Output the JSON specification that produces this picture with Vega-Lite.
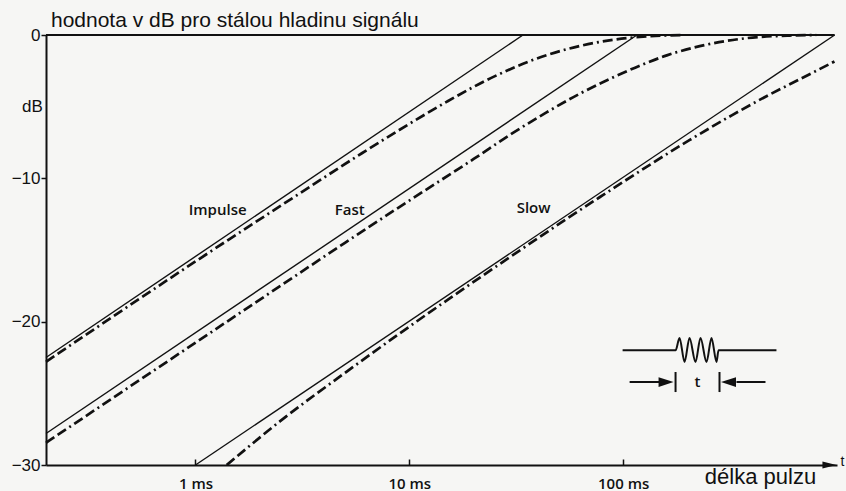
{
  "$schema": "https://vega.github.io/schema/vega-lite/v6.json",
  "width": 791,
  "height": 430,
  "autosize": {"type": "none"},
  "padding": {"left": 46, "top": 35, "right": 9, "bottom": 26},
  "background": "#f6f6f4",
  "config": {"view": {"stroke": null}},
  "datasets": {
    "title": [{"label": "hodnota v dB pro stálou hladinu signálu", "t": 0.211, "db": 0.56}],
    "zero": [{"t": 0.2, "t2": 975, "db": 0}],
    "solid": [
      {"series": "Impulse", "t": 0.2, "db": -22.5},
      {"series": "Impulse", "t": 34, "db": 0},
      {"series": "Fast", "t": 0.2, "db": -27.8},
      {"series": "Fast", "t": 116, "db": 0},
      {"series": "Slow", "t": 1.0, "db": -30},
      {"series": "Slow", "t": 975, "db": 0}
    ],
    "dashed": [
      {"series": "Impulse", "t": 0.2, "db": -22.8},
      {"series": "Impulse", "t": 1, "db": -15.8},
      {"series": "Impulse", "t": 3, "db": -11.15},
      {"series": "Impulse", "t": 6, "db": -8.25},
      {"series": "Impulse", "t": 10, "db": -6.2},
      {"series": "Impulse", "t": 15, "db": -4.65},
      {"series": "Impulse", "t": 21, "db": -3.45},
      {"series": "Impulse", "t": 30, "db": -2.35},
      {"series": "Impulse", "t": 44, "db": -1.4},
      {"series": "Impulse", "t": 63, "db": -0.76},
      {"series": "Impulse", "t": 90, "db": -0.33},
      {"series": "Impulse", "t": 130, "db": -0.1},
      {"series": "Impulse", "t": 190, "db": 0},
      {"series": "Fast", "t": 0.2, "db": -28.45},
      {"series": "Fast", "t": 0.5, "db": -24.47},
      {"series": "Fast", "t": 1.86, "db": -18.78},
      {"series": "Fast", "t": 5, "db": -14.5},
      {"series": "Fast", "t": 10, "db": -11.55},
      {"series": "Fast", "t": 20, "db": -8.65},
      {"series": "Fast", "t": 30.4, "db": -6.85},
      {"series": "Fast", "t": 43.8, "db": -5.4},
      {"series": "Fast", "t": 62.6, "db": -4.1},
      {"series": "Fast", "t": 89, "db": -2.98},
      {"series": "Fast", "t": 125, "db": -2.02},
      {"series": "Fast", "t": 160, "db": -1.42},
      {"series": "Fast", "t": 228, "db": -0.78},
      {"series": "Fast", "t": 378, "db": -0.22},
      {"series": "Fast", "t": 600, "db": -0.04},
      {"series": "Fast", "t": 800, "db": 0},
      {"series": "Slow", "t": 1.4, "db": -30},
      {"series": "Slow", "t": 2.48, "db": -26.96},
      {"series": "Slow", "t": 5.1, "db": -23.48},
      {"series": "Slow", "t": 9, "db": -20.83},
      {"series": "Slow", "t": 26.4, "db": -15.99},
      {"series": "Slow", "t": 77.6, "db": -11.32},
      {"series": "Slow", "t": 204, "db": -7.34},
      {"series": "Slow", "t": 325, "db": -5.57},
      {"series": "Slow", "t": 468, "db": -4.27},
      {"series": "Slow", "t": 667, "db": -3.1},
      {"series": "Slow", "t": 973, "db": -1.85}
    ],
    "labels": [
      {"label": "Impulse", "t": 1.27, "db": -12.2},
      {"label": "Fast", "t": 5.27, "db": -12.2},
      {"label": "Slow", "t": 38.1, "db": -12.1},
      {"label": "t", "t": 222.6, "db": -24.21}
    ],
    "axislabel": [{"label": "t", "t": 1060, "db": -29.8}],
    "icon": [
      {"part": "wave", "t": 99.4, "db": -22.0},
      {"part": "wave", "t": 175.8, "db": -22.0},
      {"part": "wave", "t": 183.5, "db": -21.14},
      {"part": "wave", "t": 193.7, "db": -22.81},
      {"part": "wave", "t": 204.3, "db": -21.14},
      {"part": "wave", "t": 218.0, "db": -22.81},
      {"part": "wave", "t": 230.0, "db": -21.14},
      {"part": "wave", "t": 245.4, "db": -22.81},
      {"part": "wave", "t": 258.9, "db": -21.14},
      {"part": "wave", "t": 273.3, "db": -22.81},
      {"part": "wave", "t": 279.2, "db": -22.0},
      {"part": "wave", "t": 521, "db": -22.0},
      {"part": "left", "t": 107.2, "db": -24.21},
      {"part": "left", "t": 147.9, "db": -24.21},
      {"part": "right", "t": 338.8, "db": -24.21},
      {"part": "right", "t": 463, "db": -24.21}
    ],
    "bars": [
      {"t": 175.8, "db": -23.51, "db2": -24.91},
      {"t": 282.2, "db": -23.51, "db2": -24.91}
    ],
    "heads": [
      {"t": 158.7, "db": -24.21, "shape": "M-1,-0.65L1,0L-1,0.65Z", "sz": 225},
      {"t": 310.9, "db": -24.21, "shape": "M1,-0.65L-1,0L1,0.65Z", "sz": 225},
      {"t": 922, "db": -30, "shape": "M-1,-0.5L1,0L-1,0.5Z", "sz": 196}
    ]
  },
  "encoding": {
    "x": {
      "field": "t",
      "type": "quantitative",
      "scale": {"type": "log", "domain": [0.2, 1000]},
      "axis": {
        "values": [1, 10, 100],
        "labelExpr": "datum.value + ' ms'",
        "grid": false,
        "tickSize": -6,
        "tickColor": "#111",
        "tickWidth": 1.5,
        "domainColor": "#111",
        "domainWidth": 2,
        "labelFont": "Open Sans",
        "labelFontSize": 15,
        "labelFontWeight": 600,
        "labelColor": "#111",
        "labelPadding": 17,
        "labelFlush": false,
        "title": "délka pulzu",
        "titleFont": "Liberation Sans",
        "titleFontSize": 22,
        "titleFontWeight": "normal",
        "titleColor": "#111",
        "titleX": 714,
        "titleY": 18,
        "titleAlign": "center",
        "titleBaseline": "alphabetic"
      }
    },
    "y": {
      "field": "db",
      "type": "quantitative",
      "scale": {"domain": [-30, 0], "nice": false, "zero": false},
      "axis": {
        "values": [0, -10, -20, -30],
        "grid": false,
        "tickSize": 5,
        "tickColor": "#111",
        "tickWidth": 1.5,
        "domainColor": "#111",
        "domainWidth": 2,
        "labelFont": "Liberation Sans",
        "labelFontSize": 17,
        "labelColor": "#111",
        "labelPadding": 1,
        "title": "dB",
        "titleAngle": 0,
        "titleX": -14,
        "titleY": 71,
        "titleAlign": "center",
        "titleBaseline": "middle",
        "titleFont": "Liberation Sans",
        "titleFontSize": 17,
        "titleFontWeight": "normal",
        "titleColor": "#111"
      }
    }
  },
  "layer": [
    {
      "data": {"name": "zero"},
      "mark": {"type": "rule", "color": "#111", "strokeWidth": 2},
      "encoding": {"x2": {"field": "t2"}}
    },
    {
      "data": {"name": "solid"},
      "mark": {"type": "line", "color": "#111", "strokeWidth": 1.4},
      "encoding": {"detail": {"field": "series"}}
    },
    {
      "data": {"name": "dashed"},
      "mark": {"type": "line", "color": "#111", "strokeWidth": 2.7, "strokeDash": [10, 4, 10, 4, 2, 4], "interpolate": "monotone"},
      "encoding": {"detail": {"field": "series"}}
    },
    {
      "data": {"name": "labels"},
      "mark": {"type": "text", "font": "Open Sans", "fontSize": 15, "fontWeight": 600, "color": "#111", "baseline": "middle", "align": "center"},
      "encoding": {"text": {"field": "label"}}
    },
    {
      "data": {"name": "axislabel"},
      "mark": {"type": "text", "font": "Liberation Sans", "fontSize": 14, "color": "#111", "baseline": "middle", "align": "center"},
      "encoding": {"text": {"field": "label"}}
    },
    {
      "data": {"name": "title"},
      "mark": {"type": "text", "font": "Liberation Sans", "fontSize": 21, "color": "#111", "baseline": "alphabetic", "align": "left"},
      "encoding": {"text": {"field": "label"}}
    },
    {
      "data": {"name": "icon"},
      "mark": {"type": "line", "color": "#111", "strokeWidth": 2, "interpolate": "monotone"},
      "encoding": {"detail": {"field": "part"}}
    },
    {
      "data": {"name": "bars"},
      "mark": {"type": "rule", "color": "#111", "strokeWidth": 2},
      "encoding": {"y2": {"field": "db2"}}
    },
    {
      "data": {"name": "heads"},
      "mark": {"type": "point", "filled": true, "color": "#111", "opacity": 1},
      "encoding": {
        "shape": {"field": "shape", "type": "nominal", "scale": null},
        "size": {"field": "sz", "type": "quantitative", "scale": null}
      }
    }
  ]
}
